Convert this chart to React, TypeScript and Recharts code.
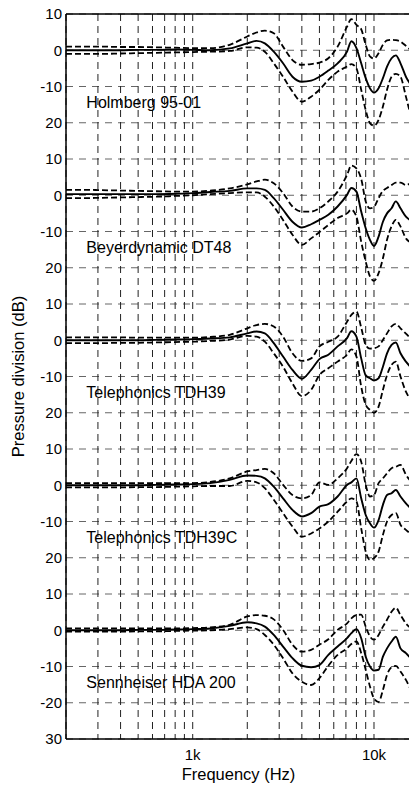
import { CartesianGrid, Line, LineChart, ReferenceDot, ReferenceLine, XAxis, YAxis } from "recharts";

const freqs = [
  200, 250, 315, 400, 500, 630, 800, 1000, 1250, 1600, 2000, 2250, 2500, 2800, 3150, 3550, 4000, 4500,
  5000, 5600, 6300, 7100, 7500, 8000, 8500, 9000, 9500, 10000, 10600, 11200, 11800, 12500, 13200, 14000,
  15000, 16000,
];

// each panel: mean response and +/- one standard deviation, in dB
const holmbergMean = [0, 0, 0, 0, 0.1, 0.1, 0.2, 0.1, 0, 0.5, 1.9, 2.6, 1.9, -0.4, -3.6, -7.3, -8.7, -8.4, -7.3, -5.6, -3.6, -0.4, 2.5, 0.6, -3.6, -7.7, -10.5, -11.7, -10.5, -7.7, -4.5, -2.2, -1.4, -3.6, -7.3, -9.6];
const holmbergUpper = [1, 1, 1, 0.9, 0.9, 0.8, 0.7, 0.6, 0.6, 1.5, 3.8, 4.9, 5.4, 4.7, 1, -2.7, -4, -3.8, -3.4, -2.2, 1, 6.5, 8.6, 7, 5.8, 1.5, -1.7, -2.3, -0.8, 1.5, 2.7, 2.9, 2.8, 2.4, 1.2, 0];
const holmbergLower = [-1, -1, -1, -0.9, -0.8, -0.7, -0.6, -0.5, -0.4, -0.2, 0.8, 0.7, -0.4, -3.6, -7.3, -11.4, -14.2, -12.8, -10.9, -8.2, -5.9, -4.5, -3.8, -5, -10.9, -16.5, -20.1, -20.8, -19.2, -15.5, -10.9, -7.3, -6.5, -7.3, -12.8, -18.3];

const dt48Mean = [0.3, 0.3, 0.3, 0.3, 0.3, 0.3, 0.4, 0.6, 0.9, 1.2, 1.9, 1.9, 1.5, -0.8, -4, -7.3, -8.9, -8, -6.8, -5.4, -3.1, 0.1, 2, 1, -4.5, -9.1, -12.3, -14, -11.4, -7.3, -5, -3.6, -1.7, -3.6, -5.9, -7];
const dt48Upper = [1.5, 1.5, 1.4, 1.3, 1.2, 1.1, 1, 1, 1.3, 1.9, 3, 3.8, 4.3, 3.3, 0.6, -3.1, -4.5, -4.5, -3.6, -1.7, 1, 5.6, 8.2, 7.4, 4.5, -1.7, -3.6, -3.2, -0.8, 1.2, 2, 2.8, 3.5, 3.5, 2.8, 3.5];
const dt48Lower = [-0.8, -0.8, -0.7, -0.6, -0.5, -0.4, -0.2, 0, 0.3, 0.6, 0.8, 0.8, -0.4, -3.1, -6.8, -10.9, -13.7, -11.9, -10.2, -8.2, -6.3, -5, -4, -5.9, -12.8, -18.3, -22.4, -23.6, -21.5, -17.4, -12.3, -8.6, -6.8, -8.6, -11.9, -13];

const tdh39Mean = [0, 0, 0, 0, 0, 0.1, 0.2, 0.3, 0.5, 0.8, 1.9, 2.4, 1.9, -0.8, -4.5, -8.2, -10.6, -8.2, -5.2, -4, -1.7, 0.6, 2.5, 1, -5, -9.7, -10.5, -11.1, -10.5, -7.3, -3.6, -1.3, -0.6, -3.6, -5.9, -7.5];
const tdh39Upper = [0.8, 0.8, 0.8, 0.8, 0.7, 0.7, 0.7, 0.7, 0.9, 1.5, 3.3, 4.2, 4.5, 3.8, 1, -3.6, -5.7, -5, -1.7, -0.4, 1, 5.1, 7, 7.9, 3.5, -1.3, -2.3, -2.2, -1.7, 0.1, 1.9, 3.8, 4.5, 3.3, 1.8, 0.5];
const tdh39Lower = [-0.8, -0.8, -0.8, -0.7, -0.7, -0.6, -0.5, -0.4, -0.2, 0.2, 1.2, 1, -0.4, -3.6, -7.3, -11.9, -15.4, -13.7, -9.6, -7.7, -5.9, -4, -2.5, -4.5, -12.8, -17.8, -19.2, -20, -18.3, -13.7, -9.6, -6.8, -5.9, -10, -14.2, -16.5];

const tdh39cMean = [0, 0, 0, 0, 0, 0.1, 0.2, 0.3, 0.6, 1.5, 2.7, 2.6, 1.9, -0.4, -3.6, -6.8, -8.6, -7.7, -5.9, -5.2, -3.1, 0.1, 0.8, 1.9, -3.6, -8.2, -10.5, -11.7, -9.6, -5.4, -2.7, -2.2, -1.3, -3.1, -5, -6.5];
const tdh39cUpper = [0.6, 0.6, 0.6, 0.6, 0.6, 0.6, 0.6, 0.6, 0.9, 1.9, 3.8, 4.2, 4.5, 3.3, 0.1, -2.7, -3.6, -2.7, 0.8, 0.1, 1.9, 4.7, 6.7, 8.6, 6.5, 0.1, -3.1, -2.7, 0.6, 1.9, 3.3, 4.7, 5.1, 5.6, 2.9, 1];
const tdh39cLower = [-0.6, -0.6, -0.6, -0.6, -0.5, -0.5, -0.4, -0.3, -0.2, -0.2, 1.2, 0.8, -0.8, -4, -7.7, -11.4, -14.2, -13.3, -11.9, -10, -7.3, -4.5, -3.6, -4.5, -11.9, -18.3, -20.6, -20.1, -18.3, -13.7, -10, -8.2, -7.7, -10.9, -12.3, -13.5];

const hda200Mean = [0, 0, 0, 0, 0.1, 0.1, 0.2, 0.3, 0.5, 1.2, 2.2, 1.9, 1, -1.3, -4.5, -7.7, -9.8, -10.2, -9.6, -6.8, -4.5, -2.2, -0.8, 0.3, -2.2, -7.3, -10, -11.1, -10.9, -7.3, -5, -3.1, -1.8, -5, -6.3, -7.8];
const hda200Upper = [0.5, 0.5, 0.5, 0.5, 0.5, 0.5, 0.5, 0.6, 0.8, 1.5, 3.8, 4.2, 4, 3, 0.1, -4, -5.9, -5.4, -4, -2.5, 0.1, 1.9, 3.3, 4.2, 4.3, 1, -1.7, -2.6, -1.3, 1, 2.9, 5.1, 6.2, 4.2, 1.9, 0.5];
const hda200Lower = [-0.4, -0.4, -0.4, -0.4, -0.3, -0.3, -0.2, -0.1, 0, 0.3, 0.8, 0.3, -1.3, -4, -7.7, -11.9, -14.2, -15.1, -13.2, -9.8, -6.8, -5, -3.8, -3.1, -6.3, -10.9, -15.5, -18.8, -19.8, -16.5, -12.3, -10.2, -9.8, -11.4, -13.7, -16.5];

const panelNames = ["Holmberg 95-01", "Beyerdynamic DT48", "Telephonics TDH39", "Telephonics TDH39C", "Sennheiser HDA 200"];

// panels are stacked 40 dB apart on one axis
const PANEL_STEP = 40;
const labelLevel = -14.5;
const labelFreq = 243;

const yTicks = [10, 0, -10, -20, -30, -40, -50, -60, -70, -80, -90, -100, -110, -120, -130, -140, -150, -160, -170, -180, -190];
const yTickLabels = ["10", "0", "-10", "20", "10", "0", "-10", "20", "10", "0", "-10", "20", "10", "0", "-10", "20", "10", "0", "-10", "-20", "30"];
const xTicks = [300, 400, 500, 600, 700, 800, 900, 1000, 2000, 3000, 4000, 5000, 6000, 7000, 8000, 9000, 10000];
const xTickLabels: Record<number, string> = { 1000: "1k", 10000: "10k" };

const panels = [
  { mean: holmbergMean, upper: holmbergUpper, lower: holmbergLower },
  { mean: dt48Mean, upper: dt48Upper, lower: dt48Lower },
  { mean: tdh39Mean, upper: tdh39Upper, lower: tdh39Lower },
  { mean: tdh39cMean, upper: tdh39cUpper, lower: tdh39cLower },
  { mean: hda200Mean, upper: hda200Upper, lower: hda200Lower },
];

const data = freqs.map((f, i) => {
  const row: Record<string, number> = { f };
  panels.forEach((p, k) => {
    row[`m${k}`] = p.mean[i] - PANEL_STEP * k;
    row[`u${k}`] = p.upper[i] - PANEL_STEP * k;
    row[`l${k}`] = p.lower[i] - PANEL_STEP * k;
  });
  return row;
});

const font = "'Liberation Sans', Arial, sans-serif";

export default function App() {
  return (
    // pinned to the page corner so the top tick label is not clipped; the right border falls just outside
    <div style={{ position: "absolute", left: 0, top: 0, width: 409, height: 787, overflow: "hidden", fontFamily: font }}>
      <LineChart width={411} height={787} data={data} margin={{ top: 14, right: 0, left: 8, bottom: 0 }}>
        <CartesianGrid vertical={false} stroke="#666" strokeDasharray="7 6" />
        <CartesianGrid horizontal={false} stroke="#222" strokeDasharray="7 5" />
        <XAxis
          dataKey="f"
          type="number"
          scale="log"
          domain={[200, 16000]}
          allowDataOverflow
          ticks={xTicks}
          interval={0}
          tickFormatter={(v: number) => xTickLabels[v] ?? ""}
          tickLine={false}
          tickSize={0}
          tickMargin={10}
          height={48}
          axisLine={{ stroke: "#000", strokeWidth: 1.5 }}
          tick={{ fill: "#000", fontSize: 15, fontFamily: font }}
          label={{ value: "Frequency (Hz)", position: "insideBottom", offset: 7, fill: "#000", fontSize: 16.5, fontFamily: font }}
        />
        <YAxis
          type="number"
          domain={[-190, 10]}
          ticks={yTicks}
          interval={0}
          tickFormatter={(v: number) => yTickLabels[yTicks.indexOf(v)] ?? ""}
          tickLine={false}
          tickSize={0}
          tickMargin={4}
          width={58}
          axisLine={{ stroke: "#000", strokeWidth: 1.5 }}
          tick={{ fill: "#000", fontSize: 15, fontFamily: font }}
          label={{
            value: "Pressure division (dB)",
            angle: -90,
            position: "insideLeft",
            offset: 10,
            fill: "#000",
            fontSize: 16.5,
            fontFamily: font,
            style: { textAnchor: "middle" },
          }}
        />
        <ReferenceLine y={10} stroke="#000" strokeWidth={1.5} />
        {panels.map((_, k) => (
          <Line key={`u${k}`} dataKey={`u${k}`} type="monotone" stroke="#000" strokeWidth={1.8} strokeDasharray="6 3" dot={false} isAnimationActive={false} />
        ))}
        {panels.map((_, k) => (
          <Line key={`l${k}`} dataKey={`l${k}`} type="monotone" stroke="#000" strokeWidth={1.8} strokeDasharray="6 3" dot={false} isAnimationActive={false} />
        ))}
        {panels.map((_, k) => (
          <Line key={`m${k}`} dataKey={`m${k}`} type="monotone" stroke="#000" strokeWidth={1.9} dot={false} isAnimationActive={false} />
        ))}
        {panelNames.map((name, k) => (
          <ReferenceDot
            key={name}
            x={labelFreq}
            y={labelLevel - PANEL_STEP * k}
            r={1}
            fill="none"
            stroke="none"
            label={{ value: name, position: "right", offset: 4, fill: "#000", fontSize: 16, fontFamily: font }}
          />
        ))}
      </LineChart>
    </div>
  );
}
